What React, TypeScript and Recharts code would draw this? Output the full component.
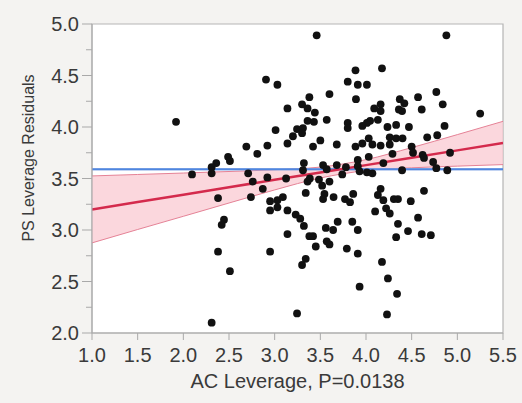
import {
  Area,
  ComposedChart,
  Line,
  ReferenceArea,
  ReferenceLine,
  Scatter,
  XAxis,
  YAxis,
} from "recharts";

const FONT = '"Liberation Sans", Arial, Helvetica, sans-serif';
const TEXT = "#3a3a3a";
const AXIS = "#a9a9a9";

const xTicks = [1, 1.5, 2, 2.5, 3, 3.5, 4, 4.5, 5, 5.5];
const yTicks = [
  2, 2.25, 2.5, 2.75, 3, 3.25, 3.5, 3.75, 4, 4.25, 4.5, 4.75, 5,
];

// horizontal mean of the residuals (blue) and its thin band
const meanY = 3.59;
const meanBand = [3.578, 3.602];

// fitted line and its confidence band
const bandX = [1, 1.5, 2, 2.5, 3, 3.5, 4, 4.5, 5, 5.5];
const fitY = [3.2, 3.272, 3.343, 3.415, 3.487, 3.558, 3.63, 3.702, 3.773, 3.845];
const bandLow = [2.875, 3.005, 3.133, 3.262, 3.389, 3.505, 3.577, 3.604, 3.62, 3.635];
const bandHigh = [3.525, 3.539, 3.553, 3.568, 3.585, 3.611, 3.683, 3.8, 3.926, 4.055];

// AC leverage vs PS leverage residuals
const acLeverage = [
  1.92, 2.905, 3.03, 3.14, 3.3, 3.38, 3.36, 3.44, 3.36, 3.43,
  3.01, 3.245, 3.31, 3.2, 3.3, 3.14, 2.92, 2.69, 2.81, 2.49,
  2.51, 2.36, 2.31, 2.095, 2.31, 2.71, 2.92, 3.125, 2.76, 3.32,
  3.31, 3.36, 2.87, 2.38, 2.74, 3.34, 2.95, 2.95, 3.03, 3.09,
  3.03, 3.14, 3.23, 3.28, 3.32, 3.38, 2.445, 2.42, 3.14, 2.38,
  2.95, 2.51, 3.34, 3.3, 3.245, 2.31,
  3.46, 4.88, 3.885, 4.175, 3.8, 3.91, 4.01, 3.89, 3.6, 4.09,
  4.16, 4.16, 4.13, 4.045, 4.01, 3.8, 3.57, 3.5, 3.42, 3.68,
  3.8, 3.96, 3.885, 3.96, 4.03, 4.07, 4.16, 4.235, 4.33, 4.47,
  4.26, 4.33, 4.4, 4.26, 4.29, 4.37, 4.42, 4.36, 4.395, 4.57,
  4.61, 4.77, 4.84, 4.86, 4.67, 4.78, 4.5, 4.515, 4.62, 4.635,
  4.92, 4.735, 4.77, 4.89, 5.25, 4.19, 4.395,
  3.53, 3.57, 3.68, 3.78, 3.74, 3.91, 3.91, 4.03, 3.93, 4.01,
  4.07, 3.385, 3.485, 3.6, 3.52, 3.545, 3.53, 3.645, 3.77, 3.825,
  3.86, 4.16, 4.13, 4.19, 4.305, 4.35, 4.49, 4.635, 4.1, 4.22,
  4.26, 4.35, 4.57, 4.46, 4.33, 4.61, 4.71, 3.42, 3.45, 3.56,
  3.64, 3.69, 3.85, 3.91, 3.57, 3.6, 3.79, 3.91, 4.175, 4.24,
  3.93, 4.34, 4.23,
];
const psResidual = [
  4.05, 4.46, 4.41, 4.18, 4.22, 4.29, 4.18, 4.14, 4.06, 4.05,
  3.97, 3.98, 3.99, 3.91, 3.94, 3.84, 3.82, 3.81, 3.74, 3.71,
  3.67, 3.65, 3.61, 3.54, 3.55, 3.55, 3.51, 3.5, 3.47, 3.65,
  3.58, 3.47, 3.4, 3.31, 3.32, 3.36, 3.28, 3.19, 3.29, 3.32,
  3.22, 3.19, 3.15, 3.11, 3.04, 2.94, 3.1, 3.05, 2.96, 2.79,
  2.79, 2.6, 2.72, 2.66, 2.19, 2.1,
  4.89, 4.89, 4.55, 4.57, 4.44, 4.41, 4.41, 4.27, 4.32, 4.18,
  4.22, 4.155, 4.07, 4.06, 4.04, 4.04, 4.07, 3.87, 3.81, 3.83,
  3.99, 4.01, 3.81, 3.84, 3.89, 3.83, 3.82, 4.0, 4.02, 4.0,
  3.9, 3.89, 3.89, 3.83, 3.74, 4.27, 4.23, 4.17, 4.155, 4.29,
  4.17, 4.34, 4.22, 4.01, 3.9, 3.92, 3.81, 3.75, 3.73, 3.7,
  3.75, 3.66, 3.6, 3.58, 4.13, 3.65, 3.58,
  3.63, 3.59, 3.63, 3.61, 3.54, 3.68, 3.62, 3.71, 3.57, 3.56,
  3.55, 3.5, 3.49, 3.47, 3.43, 3.35, 3.3, 3.32, 3.3, 3.27,
  3.35, 3.4, 3.34, 3.29, 3.3, 3.3, 3.28, 3.38, 3.18, 3.21,
  3.16, 3.06, 3.12, 2.99, 2.93, 2.96, 2.95, 2.94, 2.84, 3.02,
  3.0, 3.08, 3.08, 3.0, 2.89, 2.86, 2.82, 2.77, 2.69, 2.53,
  2.45, 2.38, 2.18,
];

const points = acLeverage.map((x, i) => ({ x, y: psResidual[i] }));
const bandRows = bandX.map((x, i) => ({
  x,
  fit: fitY[i],
  band: [bandLow[i], bandHigh[i]],
}));

const isMajor = (v: number) => Math.abs(v * 2 - Math.round(v * 2)) < 1e-6;

function YTick({ x, y, payload }: any) {
  const major = isMajor(payload.value);
  return (
    <g>
      <line x1={x - (major ? 10 : 6)} x2={x} y1={y} y2={y} stroke={AXIS} />
      {major && (
        <text
          x={x - 13}
          y={y}
          dy="0.36em"
          textAnchor="end"
          fill={TEXT}
          fontSize={20}
          fontFamily={FONT}
        >
          {payload.value.toFixed(1)}
        </text>
      )}
    </g>
  );
}

function XTick({ x, y, payload }: any) {
  return (
    <g>
      <line x1={x} x2={x} y1={y} y2={y + 7} stroke={AXIS} />
      <text
        x={x}
        y={y + 29}
        textAnchor="middle"
        fill={TEXT}
        fontSize={20}
        fontFamily={FONT}
      >
        {payload.value.toFixed(1)}
      </text>
    </g>
  );
}

// rotated y-axis title, sitting a little above the plot's middle
function YTitle() {
  const cx = 34;
  const cy = 158;
  return (
    <text
      x={cx}
      y={cy}
      transform={`rotate(-90 ${cx} ${cy})`}
      textAnchor="middle"
      fill={TEXT}
      fontSize={16}
      fontFamily={FONT}
    >
      PS Leverage Residuals
    </text>
  );
}

export default function App() {
  return (
    <div
      style={{
        position: "absolute",
        left: 0,
        top: 0,
        width: 522,
        height: 403,
        background: "#f4f3f1",
      }}
    >
      <ComposedChart
        width={522}
        height={403}
        data={bandRows}
        margin={{ top: 24, right: 19, bottom: 0, left: 0 }}
      >
        <XAxis
          dataKey="x"
          type="number"
          domain={[1, 5.5]}
          ticks={xTicks}
          height={70}
          stroke={AXIS}
          tickLine={false}
          tickSize={0}
          tickMargin={0}
          tick={<XTick />}
          allowDataOverflow
          label={{
            content: ({ viewBox }: any) => (
              <text
                x={viewBox.x + viewBox.width / 2}
                y={viewBox.y + 55}
                textAnchor="middle"
                fill={TEXT}
                fontSize={20}
                fontFamily={FONT}
              >
                AC Leverage, P=0.0138
              </text>
            ),
          }}
        />
        <YAxis
          type="number"
          domain={[2, 5]}
          ticks={yTicks}
          interval={0}
          width={92}
          stroke={AXIS}
          tickLine={false}
          tickSize={0}
          tickMargin={0}
          tick={<YTick />}
          allowDataOverflow
          label={{ content: () => <YTitle /> }}
        />
        <ReferenceArea
          x1={1}
          x2={5.5}
          y1={2}
          y2={5}
          fill="#ffffff"
          fillOpacity={1}
          stroke="#b5b5b5"
          strokeWidth={1.2}
        />
        <Area
          dataKey="band"
          type="monotone"
          fill="#f9c9d2"
          fillOpacity={0.75}
          stroke="#e58296"
          strokeWidth={1}
          isAnimationActive={false}
        />
        <ReferenceArea
          y1={meanBand[0]}
          y2={meanBand[1]}
          fill="#aebfe8"
          fillOpacity={0.55}
          stroke="none"
        />
        <ReferenceLine y={meanY} stroke="#4f86df" strokeWidth={2} />
        <Line
          dataKey="fit"
          type="linear"
          stroke="#d42a4c"
          strokeWidth={2.5}
          dot={false}
          activeDot={false}
          isAnimationActive={false}
        />
        <Scatter
          data={points}
          dataKey="y"
          fill="#111111"
          isAnimationActive={false}
          shape={(p: any) => <circle cx={p.cx} cy={p.cy} r={3.9} fill="#111111" />}
        />
      </ComposedChart>
    </div>
  );
}
